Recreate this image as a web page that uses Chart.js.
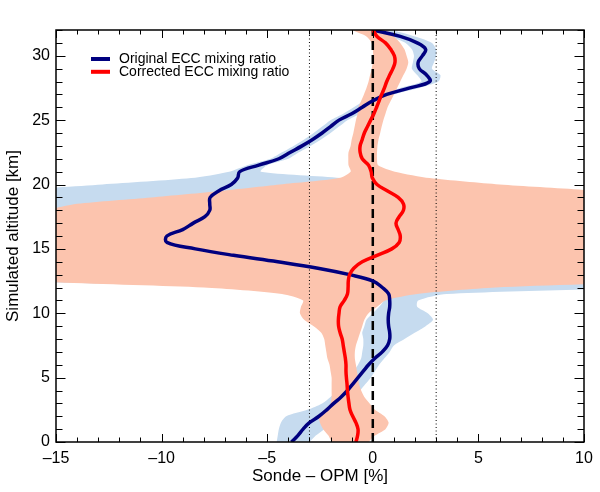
<!DOCTYPE html>
<html>
<head>
<meta charset="utf-8">
<script src="https://cdn.jsdelivr.net/npm/chart.js@4.4.0/dist/chart.umd.min.js"></script>
<style>
  html, body { margin: 0; padding: 0; background: #fff; }
  canvas { display: block; }
</style>
</head>
<body>
<canvas id="profileChart" width="600" height="492"></canvas>
<script>
// =========================
// DATA (altitude in km, differences in %)
// =========================

const altitude = [
  0, 0.5, 1, 1.5, 2, 2.5, 3, 3.5, 4, 4.5,
  5, 5.5, 6, 6.5, 7, 7.5, 8, 8.5, 9, 9.5,
  10, 10.5, 11, 11.5, 12, 12.5, 13, 13.5, 14, 14.5,
  15, 15.5, 16, 16.5, 17, 17.5, 18, 18.5, 19, 19.5,
  20, 20.5, 21, 21.5, 22, 22.5, 23, 23.5, 24, 24.5,
  25, 25.5, 26, 26.5, 27, 27.5, 28, 28.5, 29, 29.5,
  30, 30.5, 31, 31.5, 32,
];

const originalECC = [
  -3.85, -3.55, -3.3, -3.0, -2.55, -2.18, -1.85, -1.5, -1.2, -0.95,
  -0.7, -0.45, -0.2, 0.1, 0.45, 0.7, 0.8, 0.8, 0.75, 0.73,
  0.75, 0.8, 0.8, 0.75, 0.45, 0.02, -1.1, -2.6, -4.5, -6.6,
  -8.4, -9.75, -9.75, -9.0, -8.5, -7.95, -7.72, -7.72, -7.7, -7.3,
  -6.7, -6.4, -6.3, -5.4, -4.45, -3.9, -3.35, -2.85, -2.4, -2.0,
  -1.6, -1.0, -0.5, 0.0, 0.66, 1.76, 2.7, 2.55, 2.2, 2.15,
  2.35, 2.5, 2.1, 1.3, 0.0,
];

const correctedECC = [
  -0.8, -0.72, -0.7, -0.8, -0.95, -1.08, -1.13, -1.17, -1.2, -1.22,
  -1.25, -1.27, -1.27, -1.3, -1.35, -1.4, -1.45, -1.55, -1.62, -1.63,
  -1.6, -1.55, -1.35, -1.2, -1.17, -1.16, -1.1, -0.9, -0.5, 0.2,
  0.9, 1.25, 1.3, 1.2, 1.1, 1.25, 1.45, 1.45, 1.2, 0.7,
  0.2, -0.02, -0.08, -0.2, -0.5, -0.6, -0.6, -0.5, -0.4, -0.25,
  -0.1, 0.05, 0.18, 0.3, 0.42, 0.55, 0.66, 0.8, 0.95, 1.05,
  1.02, 0.85, 0.6, 0.2, 0.02,
];

// uncertainty envelopes
const originalLow = [
  -4.55, -4.5, -4.45, -4.35, -4.1, -3.1, -2.4, -2.0, -1.7, -1.4,
  -1.15, -0.9, -0.7, -0.55, -0.5, -0.45, -0.45, -0.5, -0.4, -0.3,
  0.0, 0.3, 0.5, 0.3, -2.0, -17, -17, -17, -17, -17,
  -17, -17, -17, -17, -17, -17, -18, -18, -18, -17,
  -12.8, -8.6, -6.8, -5.95, -4.85, -4.3, -3.75, -3.25, -2.8, -2.4,
  -2.0, -1.4, -0.9, -0.4, 0.3, 1.3, 2.3, 2.1, 1.85, 1.9,
  1.95, 1.85, 1.55, 0.8, -0.3,
];

const originalHigh = [
  -3.0, -2.7, -2.3, -1.9, -1.6, -1.3, -1.0, -0.8, -0.6, -0.35,
  -0.1, 0.1, 0.3, 0.55, 0.8, 1.0, 1.5, 2.0, 2.5, 2.85,
  2.6, 2.1, 2.15, 3.5, 12, 13, 13, 13, 13, 13,
  13, 13, 13, 13, 13, 13, 12, 10, 7, 3,
  0, -1.5, -5.3, -5.0, -4.0, -3.5, -2.95, -2.45, -2.0, -1.6,
  -1.2, -0.6, -0.1, 0.4, 1.0, 2.2, 3.1, 3.2, 2.8, 2.9,
  3.0, 3.0, 2.8, 2.0, 0.8,
];

const correctedLow = [
  -1.95, -2.1, -2.35, -2.5, -2.55, -2.3, -2.0, -1.95, -1.95, -1.95,
  -1.95, -2.0, -2.05, -2.15, -2.2, -2.25, -2.3, -2.45, -2.8, -3.25,
  -3.45, -3.4, -3.3, -4.3, -8.0, -16, -17, -17, -17, -17,
  -17, -17, -17, -17, -17, -17, -15.5, -14.0, -10.5, -7.2,
  -4.4, -1.6, -1.05, -1.15, -1.16, -1.15, -1.05, -1.0, -0.92, -0.86,
  -0.8, -0.72, -0.68, -0.55, -0.42, -0.3, -0.2, -0.13, -0.05, 0.0,
  0.02, 0.0, -0.05, -0.3, -0.95,
];

const correctedHigh = [
  -0.2, 0.1, 0.6, 0.75, 0.55, 0.1, -0.15, -0.4, -0.55, -0.65,
  -0.7, -0.75, -0.8, -0.85, -0.85, -0.8, -0.7, -0.6, -0.5, -0.4,
  -0.2, 0.2, 0.6, 2.1, 5.8, 13, 13, 13, 13, 13,
  13, 13, 13, 13, 13, 13, 13, 13, 12, 10.5,
  6.0, 2.7, 1.05, 0.25, 0.2, 0.2, 0.22, 0.27, 0.35, 0.42,
  0.5, 0.6, 0.7, 0.85, 1.0, 1.15, 1.3, 1.45, 1.6, 1.68,
  1.6, 1.5, 1.3, 1.0, 0.6,
];

const dottedLines = [-3, 3];
const dashedLine = 0;
const altRange = [0, 32];
const xRange = [-15, 10];

// =========================
// HELPERS
// =========================

const FONT = "'Liberation Sans', Arial, Helvetica, sans-serif";

function toPoints(values) {
  return values.map((v, i) => ({ x: v, y: altitude[i] }));
}

// closed outline: up the low edge, back down the high edge
function envelope(low, high) {
  return toPoints(low).concat(toPoints(high).reverse());
}

function vertical(x) {
  return altRange.map((a) => ({ x: x, y: a }));
}

function fmt(v) {
  return v < 0 ? "\u2013" + Math.abs(v) : String(v);
}

// =========================
// PLUGINS
// =========================

// IDL style frame with inward ticks on all four sides
const frameTicks = {
  id: "frameTicks",
  afterDatasetsDraw(chart) {
    const { ctx, chartArea: a, scales } = chart;
    const x = scales.x;
    const y = scales.y;
    ctx.save();
    ctx.strokeStyle = "#000";
    ctx.lineWidth = 1;
    ctx.beginPath();
    for (let v = x.min; v <= x.max; v++) {
      const px = Math.round(x.getPixelForValue(v)) + 0.5;
      const len = v % 5 === 0 ? 8 : 4.5;
      ctx.moveTo(px, a.bottom);
      ctx.lineTo(px, a.bottom - len);
      ctx.moveTo(px, a.top);
      ctx.lineTo(px, a.top + len);
    }
    for (let v = y.min; v <= y.max; v++) {
      const py = Math.round(y.getPixelForValue(v)) + 0.5;
      const len = v % 5 === 0 ? 9.5 : 6.5;
      ctx.moveTo(a.left, py);
      ctx.lineTo(a.left + len, py);
      ctx.moveTo(a.right, py);
      ctx.lineTo(a.right - len, py);
    }
    ctx.stroke();
    ctx.lineWidth = 1.5;
    ctx.strokeRect(a.left, a.top, a.right - a.left, a.bottom - a.top);
    ctx.restore();
  },
};

// legend inside the top-left corner of the plot
const insetLegend = {
  id: "insetLegend",
  afterDraw(chart) {
    const { ctx, chartArea: a } = chart;
    const rows = chart.data.datasets.filter((d) => d.label);
    ctx.save();
    ctx.font = "14px " + FONT;
    ctx.textBaseline = "middle";
    ctx.fillStyle = "#000";
    rows.forEach((d, i) => {
      const yy = a.top + 29 + i * 12.8;
      ctx.strokeStyle = d.borderColor;
      ctx.lineWidth = 4;
      ctx.beginPath();
      ctx.moveTo(a.left + 35, yy);
      ctx.lineTo(a.left + 54, yy);
      ctx.stroke();
      ctx.fillText(d.label, a.left + 63, yy);
    });
    ctx.restore();
  },
};

// =========================
// CHART
// =========================

const lineOpts = { showLine: true, pointRadius: 0, fill: false, clip: 0 };
const bandOpts = {
  showLine: true,
  pointRadius: 0,
  borderWidth: 0,
  borderColor: "rgba(0,0,0,0)",
  fill: "shape",
  tension: 0.25,
  capBezierPoints: false,
};

const profileChart = new Chart(document.getElementById("profileChart"), {
  type: "scatter",
  data: {
    datasets: [
      {
        ...lineOpts,
        label: "Original ECC mixing ratio",
        data: toPoints(originalECC),
        borderColor: "#00007f",
        borderWidth: 3.5,
        tension: 0.4,
        order: 1,
      },
      {
        ...lineOpts,
        label: "Corrected ECC mixing ratio",
        data: toPoints(correctedECC),
        borderColor: "#ff0000",
        borderWidth: 3.5,
        tension: 0.4,
        order: 0,
      },
      {
        ...lineOpts,
        data: vertical(dashedLine),
        borderColor: "#000",
        borderWidth: 2.5,
        borderDash: [9, 5],
        order: 2,
      },
      {
        ...lineOpts,
        data: vertical(dottedLines[0]),
        borderColor: "#000",
        borderWidth: 1,
        borderDash: [1, 2.5],
        order: 3,
      },
      {
        ...lineOpts,
        data: vertical(dottedLines[1]),
        borderColor: "#000",
        borderWidth: 1,
        borderDash: [1, 2.5],
        order: 3,
      },
      {
        ...bandOpts,
        data: envelope(correctedLow, correctedHigh),
        backgroundColor: "#fcc4ae",
        order: 4,
      },
      {
        ...bandOpts,
        data: envelope(originalLow, originalHigh),
        backgroundColor: "#c6dbef",
        order: 5,
      },
    ],
  },
  options: {
    responsive: false,
    animation: false,
    layout: { padding: { top: 30, right: 16, left: 0, bottom: 0 } },
    plugins: {
      legend: { display: false },
      tooltip: { enabled: false },
    },
    scales: {
      x: {
        type: "linear",
        min: xRange[0],
        max: xRange[1],
        grid: { display: false, drawTicks: false },
        border: { display: false },
        ticks: {
          stepSize: 5,
          includeBounds: false,
          padding: 7,
          maxRotation: 0,
          autoSkip: false,
          color: "#000",
          font: { family: FONT, size: 16 },
          callback: fmt,
        },
        title: {
          display: true,
          text: "Sonde \u2013 OPM [%]",
          color: "#000",
          font: { family: FONT, size: 17 },
          padding: { top: 0, bottom: 5 },
        },
        afterFit: (s) => {
          s.height = 50;
        },
      },
      y: {
        type: "linear",
        min: altRange[0],
        max: altRange[1],
        grid: { display: false, drawTicks: false },
        border: { display: false },
        ticks: {
          stepSize: 5,
          includeBounds: false,
          padding: 6,
          color: "#000",
          font: { family: FONT, size: 16 },
          callback: fmt,
        },
        title: {
          display: true,
          text: "Simulated altitude [km]",
          color: "#000",
          font: { family: FONT, size: 17 },
          padding: { top: 3, bottom: 0 },
        },
        afterFit: (s) => {
          s.width = 56;
        },
      },
    },
  },
  plugins: [frameTicks, insetLegend],
});
</script>
</body>
</html>
